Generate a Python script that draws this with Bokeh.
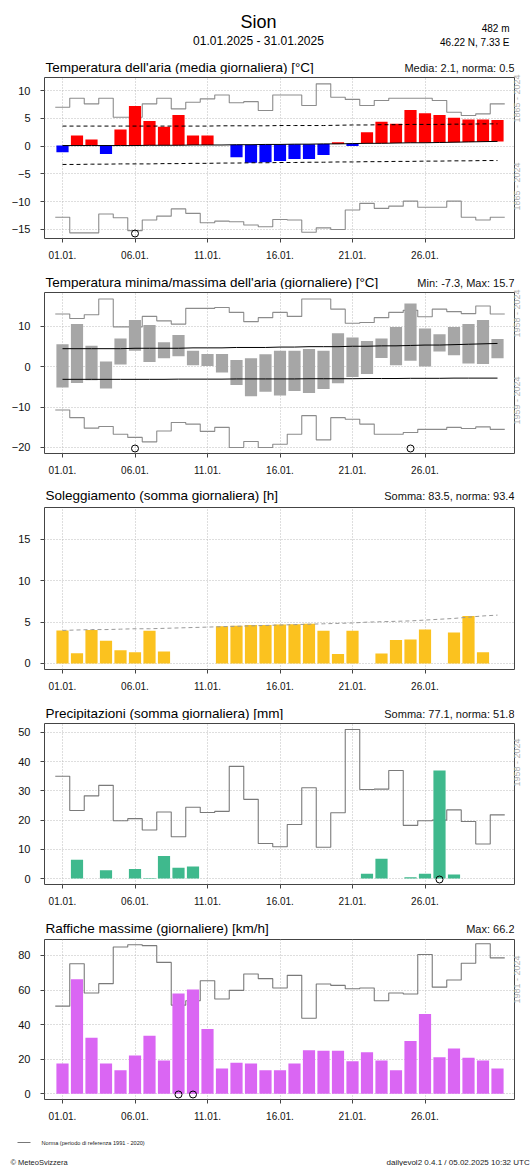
import numpy as np
from bokeh.plotting import figure
from bokeh.models import Range1d, FixedTicker, Label, LinearAxis
from bokeh.layouts import column
from bokeh.embed import file_html
from bokeh.resources import INLINE

# ---------------- data ----------------
days = list(range(1, 32))
tick_days = [1, 6, 11, 16, 21, 26]
tick_labels = ["01.01.", "06.01.", "11.01.", "16.01.", "21.01.", "26.01."]

# Panel 1: daily mean temperature
t_mean = [-1.1, 1.9, 1.2, -1.4, 3.0, 7.2, 4.5, 3.5, 5.6, 1.9, 1.9, 0.2, -2.0, -3.0, -2.9, -2.7,
          -2.3, -2.3, -1.6, 0.7, 0.0, 2.5, 4.4, 4.0, 6.5, 5.9, 5.6, 5.1, 4.8, 4.8, 4.7]
t_norm = [0.1, 0.1, 0.1, 0.1, 0.1, 0.1, 0.15, 0.15, 0.15, 0.2, 0.2, 0.2, 0.25, 0.25, 0.3, 0.3,
          0.35, 0.35, 0.4, 0.4, 0.45, 0.5, 0.5, 0.55, 0.6, 0.6, 0.65, 0.7, 0.75, 0.8, 0.85]
t_norm_hi = [3.6, 3.6, 3.6, 3.6, 3.6, 3.6, 3.6, 3.6, 3.6, 3.6, 3.6, 3.65, 3.65, 3.65, 3.65, 3.7,
             3.7, 3.7, 3.7, 3.75, 3.8, 3.8, 3.85, 3.85, 3.9, 3.9, 3.9, 3.95, 3.95, 4.0, 4.0]
t_norm_lo = [-3.3, -3.3, -3.25, -3.25, -3.2, -3.2, -3.2, -3.15, -3.15, -3.1, -3.1, -3.05, -3.05,
             -3.0, -3.0, -2.95, -2.95, -2.9, -2.9, -2.85, -2.85, -2.8, -2.8, -2.75, -2.75, -2.7,
             -2.7, -2.65, -2.65, -2.6, -2.6]
t_rec_hi = [7.0, 8.6, 7.6, 8.6, 5.2, 5.2, 7.6, 8.6, 6.7, 7.9, 8.5, 9.2, 7.8, 8.0, 6.4, 9.2,
            9.2, 7.3, 11.2, 8.8, 8.4, 7.3, 8.2, 8.6, 8.6, 8.6, 8.2, 6.1, 5.5, 5.8, 7.6]
t_rec_lo = [-12.8, -15.6, -15.6, -12.2, -12.9, -15.2, -13.3, -12.6, -11.3, -12.1, -13.8, -13.5,
            -13.6, -14.2, -14.5, -13.2, -13.3, -15.5, -14.7, -15.0, -11.5, -10.3, -11.2, -10.8,
            -9.9, -11.0, -11.0, -9.9, -12.8, -13.3, -12.8]
t_record_days = [6]

# Panel 2: daily min / max temperature
t_max = [5.6, 10.6, 5.2, 1.3, 7.0, 11.6, 10.4, 6.1, 7.9, 4.0, 3.2, 3.2, 1.7, 2.1, 3.1, 4.0,
         4.0, 4.4, 4.0, 8.3, 7.3, 6.4, 7.0, 9.9, 15.7, 9.5, 8.1, 9.9, 10.6, 11.6, 6.9]
t_min = [-5.1, -4.0, -3.3, -5.4, 0.6, 4.0, 1.2, 2.1, 2.6, 0.4, 0.2, -1.4, -4.5, -7.3, -6.2, -7.1,
         -6.0, -6.5, -5.5, -4.1, -2.5, -1.8, 2.2, 0.4, 1.5, 0.1, 3.8, 2.9, 0.8, 0.7, 2.1]
tmax_norm = [4.5, 4.5, 4.5, 4.5, 4.5, 4.6, 4.6, 4.6, 4.6, 4.7, 4.7, 4.7, 4.8, 4.8, 4.8, 4.9,
             4.9, 5.0, 5.0, 5.0, 5.1, 5.1, 5.2, 5.2, 5.3, 5.4, 5.4, 5.5, 5.6, 5.7, 5.8]
tmin_norm = [-3.1, -3.1, -3.1, -3.1, -3.1, -3.1, -3.1, -3.1, -3.05, -3.05, -3.05, -3.05, -3.0,
             -3.0, -3.0, -3.0, -3.0, -2.95, -2.95, -2.95, -2.95, -2.9, -2.9, -2.9, -2.85, -2.85,
             -2.85, -2.8, -2.8, -2.8, -2.8]
tmax_rec = [13.1, 12.0, 12.9, 16.8, 9.9, 9.9, 12.5, 11.4, 10.6, 14.5, 14.5, 14.7, 13.5, 11.2,
            12.2, 13.5, 12.5, 16.8, 16.8, 14.3, 10.8, 11.0, 12.2, 13.5, 14.0, 12.4, 14.3, 13.7,
            13.2, 15.1, 13.1]
tmin_rec = [-10.7, -12.6, -15.2, -14.8, -16.7, -17.5, -18.6, -15.9, -13.8, -14.2, -16.0, -15.0,
            -20.0, -18.5, -20.0, -19.2, -16.7, -12.1, -18.1, -12.6, -13.0, -14.2, -16.7, -16.7,
            -16.3, -15.5, -15.5, -15.0, -15.3, -14.9, -15.5]
tmm_record_days = [6, 25]

# Panel 3: sunshine
sun = [4.0, 1.25, 4.05, 2.75, 1.6, 1.35, 3.95, 1.45, 0, 0, 0, 4.5, 4.55, 4.65, 4.65, 4.7,
       4.75, 4.8, 3.95, 1.15, 3.95, 0, 1.2, 2.85, 2.9, 4.1, 0, 3.75, 5.75, 1.35, 0]
sun_norm = [4.0, 4.05, 4.1, 4.1, 4.15, 4.2, 4.2, 4.25, 4.3, 4.35, 4.4, 4.45, 4.5, 4.55, 4.6,
            4.65, 4.7, 4.75, 4.8, 4.85, 4.9, 5.0, 5.05, 5.1, 5.15, 5.25, 5.35, 5.45, 5.6, 5.75,
            5.85]

# Panel 4: precipitation
rain = [0, 6.4, 0, 2.8, 0, 3.3, 0.2, 7.7, 3.7, 4.1, 0, 0, 0, 0, 0, 0, 0, 0, 0, 0, 0, 1.6, 6.8,
        0, 0.4, 1.6, 37.0, 1.4, 0, 0, 0]
rain_rec = [35.0, 23.3, 28.3, 31.9, 19.8, 20.5, 16.6, 22.8, 14.3, 24.4, 22.6, 23.0, 38.4, 27.1,
            12.0, 10.9, 18.5, 31.1, 10.7, 22.5, 51.0, 30.5, 30.6, 37.0, 18.2, 19.8, 20.0, 23.5,
            19.5, 11.8, 21.8]
rain_record_days = [27]

# Panel 5: maximum gusts
gust = [17.5, 66.2, 32.4, 17.5, 13.6, 22.1, 33.6, 19.2, 58.0, 60.4, 37.5, 14.6, 17.9, 17.5,
        13.6, 13.6, 17.5, 25.2, 24.9, 24.9, 18.8, 24.1, 19.2, 13.6, 30.5, 46.2, 21.2, 26.2,
        20.8, 19.2, 14.6]
gust_rec = [50.7, 75.2, 58.3, 63.7, 84.9, 86.2, 85.7, 76.0, 51.3, 53.8, 65.4, 54.8, 59.8, 69.3,
            66.6, 61.2, 68.5, 43.7, 63.5, 62.7, 60.8, 61.2, 53.8, 58.3, 57.7, 80.6, 61.7, 65.8,
            75.5, 86.8, 78.6]
gust_record_days = [9, 10]

# ---------------- styling / layout ----------------
FONT = "Liberation Sans"
W = 530
B_LEFT = 44
B_RIGHT = 16
FRAME_R = W - B_RIGHT
X_RANGE = (1 - 18 / 14.5, 1 + (FRAME_R - 62) / 14.5)
REC_COLOR = "#8c8c8c"
REC_COLOR_DARK = "#7a7a7a"
LABEL_GRAY = "#b0b0b0"
BAR_W = 0.84
FRAME_H = {}


def make_fig(height, top, bottom, yr, yticks):
    p = figure(width=W, height=height, x_range=Range1d(*X_RANGE), y_range=Range1d(*yr),
               output_backend="svg", toolbar_location=None,
               min_border_left=B_LEFT, min_border_right=B_RIGHT,
               min_border_top=top, min_border_bottom=bottom)
    FRAME_H[p.id] = height - top - bottom
    p.xaxis.ticker = FixedTicker(ticks=tick_days)
    p.xaxis.major_label_overrides = {d: l for d, l in zip(tick_days, tick_labels)}
    p.yaxis.ticker = FixedTicker(ticks=yticks)
    for ax in p.axis:
        ax.axis_line_color = None
        ax.major_tick_out = 4
        ax.major_tick_in = 0
        ax.minor_tick_line_color = None
        ax.major_tick_line_color = "#444444"
        ax.major_label_text_font = FONT
        ax.major_label_text_color = "#111111"
    p.yaxis.major_label_text_font_size = "11px"
    p.yaxis.major_label_standoff = 10
    p.xaxis.major_label_text_font_size = "10px"
    p.xaxis.major_label_standoff = 8
    p.outline_line_color = "#444444"
    p.outline_line_width = 1
    p.grid.grid_line_color = "#bdbdbd"
    p.grid.grid_line_dash = "1 2"
    p.background_fill_color = "white"
    p.border_fill_color = "white"
    return p


def side_labels(p, fracs, texts):
    """Vertical grey period labels to the right of the frame (as right-axis tick labels)."""
    yr = p.y_range
    pos = [round(yr.start + f * (yr.end - yr.start), 3) for f in fracs]
    ax = LinearAxis(ticker=FixedTicker(ticks=pos),
                    major_label_overrides={v: t for v, t in zip(pos, texts)},
                    major_label_orientation=np.pi / 2,
                    axis_line_color=None, major_tick_line_color=None,
                    minor_tick_line_color=None, major_tick_out=0, major_tick_in=0,
                    major_label_standoff=3, major_label_text_font=FONT,
                    major_label_text_font_size="9px", major_label_text_color=LABEL_GRAY)
    p.add_layout(ax, "right")


def strip(h, x0=B_LEFT, x1=FRAME_R, width=W):
    # frame of strips inside the column is aligned to the panel frames (x0..x1)
    s = figure(width=width, height=h, x_range=Range1d(x0, x1), y_range=Range1d(h, 0),
               output_backend="svg", toolbar_location=None,
               min_border_left=0, min_border_right=0, min_border_top=0, min_border_bottom=0,
               x_axis_type=None, y_axis_type=None)
    s.outline_line_color = None
    s.background_fill_color = "white"
    s.border_fill_color = "white"
    return s


def text(s, x, y, t, size, align="left", color="black"):
    s.add_layout(Label(x=x, y=y, text=t, text_font=FONT, text_font_size=size,
                       text_align=align, text_baseline="middle", text_color=color))


def titles(s, y, left, right):
    text(s, 45, y, left, "13.5px")
    text(s, FRAME_R, y, right, "11px", align="right", color="#111111")


def step_xy(vals):
    d = np.asarray(days, dtype=float)
    xs = np.column_stack([d - 0.5, d + 0.5]).ravel()
    ys = np.repeat(np.asarray(vals, dtype=float), 2)
    return xs, ys


def record_marks(p, rec_days):
    yr = p.y_range
    y0 = yr.start + 5.0 * (yr.end - yr.start) / FRAME_H[p.id]
    p.scatter(x=rec_days, y=[y0] * len(rec_days), marker="circle", size=7,
              fill_color=None, line_color="black", line_width=1)


# ---------------- header + panel 1 ----------------
sA = strip(74)
text(sA, 258, 21, "Sion", "18px", align="center")
text(sA, 258, 40, "01.01.2025 - 31.01.2025", "12px", align="center")
text(sA, 509, 28, "482 m", "10px", align="right")
text(sA, 509, 42, "46.22 N, 7.33 E", "10px", align="right")
titles(sA, 67, "Temperatura dell'aria (media giornaliera) [°C]", "Media: 2.1, norma: 0.5")

p1 = make_fig(188, 3, 24, (-16.62, 12.34), [-15, -10, -5, 0, 5, 10])
for vals in (t_rec_hi, t_rec_lo):
    xs, ys = step_xy(vals)
    p1.line(xs, ys, line_color=REC_COLOR, line_width=1.1)
colors1 = ["#ff0000" if v >= n else "#0000ff" for v, n in zip(t_mean, t_norm)]
p1.vbar(x=days, width=BAR_W, bottom=t_norm, top=t_mean, fill_color=colors1, line_color=None)
p1.line(days, t_norm, line_color="black", line_width=1)
p1.line(days, t_norm_hi, line_color="black", line_width=1, line_dash="4 3")
p1.line(days, t_norm_lo, line_color="black", line_width=1, line_dash="4 3")
record_marks(p1, t_record_days)
side_labels(p1, [0.829, 0.174], ["1865 - 2024", "1865 - 2024"])

# ---------------- panel 2 ----------------
sB = strip(27)
titles(sB, 20, "Temperatura minima/massima dell'aria (giornaliere) [°C]", "Min: -7.3, Max: 15.7")
p2 = make_fig(188, 3, 24, (-21.49, 18.43), [-20, -10, 0, 10])
for vals in (tmax_rec, tmin_rec):
    xs, ys = step_xy(vals)
    p2.line(xs, ys, line_color=REC_COLOR, line_width=1.1)
p2.vbar(x=days, width=BAR_W, bottom=t_min, top=t_max, fill_color="#a6a6a6", line_color=None)
p2.line(days, tmax_norm, line_color="black", line_width=1)
p2.line(days, tmin_norm, line_color="black", line_width=1)
record_marks(p2, tmm_record_days)
side_labels(p2, [0.839, 0.18], ["1958 - 2024", "1959 - 2024"])

# ---------------- panel 3 ----------------
sC = strip(27)
titles(sC, 18, "Soleggiamento (somma giornaliera) [h]", "Somma: 83.5, norma: 93.4")
p3 = make_fig(190, 3, 25, (-0.73, 18.87), [0, 5, 10, 15])
p3.vbar(x=days, width=BAR_W, bottom=0, top=sun, fill_color="#fbc21f", line_color=None)
p3.line(days, sun_norm, line_color="#9a9a9a", line_width=1, line_dash="4 3")

# ---------------- panel 4 ----------------
sD = strip(26)
titles(sD, 19, "Precipitazioni (somma giornaliera) [mm]", "Somma: 77.1, norma: 51.8")
p4 = make_fig(188, 3, 24, (-2.05, 53.08), [0, 10, 20, 30, 40, 50])
xs, ys = step_xy(rain_rec)
p4.line(xs, ys, line_color=REC_COLOR_DARK, line_width=1.1)
p4.vbar(x=days, width=BAR_W, bottom=0, top=rain, fill_color="#3fb98d", line_color=None)
record_marks(p4, rain_record_days)
side_labels(p4, [0.832], ["1958 - 2024"])

# ---------------- panel 5 ----------------
sE = strip(28)
titles(sE, 20, "Raffiche massime (giornaliere) [km/h]", "Max: 66.2")
p5 = make_fig(188, 3, 25, (-3.3, 89.25), [0, 20, 40, 60, 80])
xs, ys = step_xy(gust_rec)
p5.line(xs, ys, line_color=REC_COLOR_DARK, line_width=1.1)
p5.vbar(x=days, width=BAR_W, bottom=0, top=gust, fill_color="#da66f3", line_color=None)
record_marks(p5, gust_record_days)
side_labels(p5, [0.8375], ["1981 - 2024"])

layout = column(sA, p1, sB, p2, sC, p3, sD, p4, sE, p5, spacing=0)

# ---------------- footer (own root, full width) ----------------
sF = strip(42, x0=0, x1=W)
sF.line([17, 30], [18, 18], line_color="#777777", line_width=1)
text(sF, 41, 18, "Norma (periodo di referenza 1991 - 2020)", "5.6px", color="#222222")
text(sF, 10, 38, "© MeteoSvizzera", "7.5px", color="#222222")
text(sF, 386, 38, "dailyevol2 0.4.1 / 05.02.2025 10:32 UTC", "8px", color="#222222")

open("out.html", "w").write(file_html([layout, sF], INLINE))
